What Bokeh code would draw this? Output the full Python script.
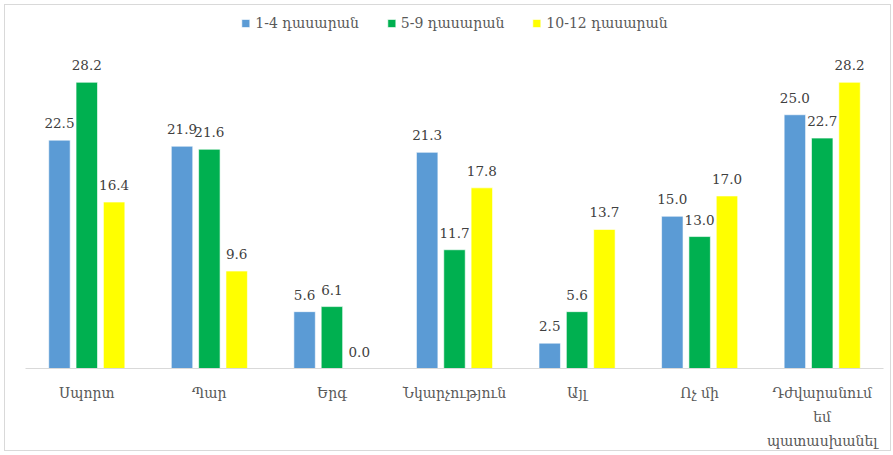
from bokeh.plotting import figure
from bokeh.models import ColumnDataSource, FactorRange, Range1d, Legend, LegendItem
from bokeh.transform import dodge
from bokeh.core.properties import value
from bokeh.embed import file_html
from bokeh.resources import INLINE

categories = ["Սպորտ", "Պար", "Երգ", "Նկարչություն", "Այլ", "Ոչ մի",
              "Դժվարանում\nեմ\nպատասխանել"]
series_names = ["1-4 դասարան", "5-9 դասարան", "10-12 դասարան"]
grade_1_4 = [22.5, 21.9, 5.6, 21.3, 2.5, 15.0, 25.0]
grade_5_9 = [28.2, 21.6, 6.1, 11.7, 5.6, 13.0, 22.7]
grade_10_12 = [16.4, 9.6, 0.0, 17.8, 13.7, 17.0, 28.2]
colors = ["#5B9BD5", "#00B050", "#FFFF00"]

FONT = "DejaVu Serif"

src = ColumnDataSource(dict(
    cat=categories,
    s1=grade_1_4, s2=grade_5_9, s3=grade_10_12,
    t1=[f"{v:.1f}" for v in grade_1_4],
    t2=[f"{v:.1f}" for v in grade_5_9],
    t3=[f"{v:.1f}" for v in grade_10_12],
))

p = figure(x_range=FactorRange(*categories), y_range=Range1d(0, 34.78),
           width=887, height=447, output_backend="svg", toolbar_location=None,
           min_border_left=20, min_border_right=9, min_border_top=10, min_border_bottom=84)
p.margin = (4, 4, 4, 4)
p.styles = {"border": "1px solid #d9d9d9", "box-sizing": "border-box"}
p.outline_line_color = None
p.xgrid.grid_line_color = None
p.ygrid.grid_line_color = None
p.yaxis.visible = False

offsets = [-0.223, 0.0, 0.223]
keys = ["s1", "s2", "s3"]
tkeys = ["t1", "t2", "t3"]
items = []
for i in range(3):
    r = p.vbar(x=dodge("cat", offsets[i], range=p.x_range), top=keys[i], width=0.175,
               source=src, fill_color=colors[i], line_color="white", line_width=0.6)
    items.append(LegendItem(label=series_names[i], renderers=[r]))
    p.text(x=dodge("cat", offsets[i], range=p.x_range), y=keys[i], text=tkeys[i], source=src,
           text_align="center", text_baseline="alphabetic", y_offset=-17,
           text_font=value(FONT), text_font_size="13.5px", text_color="#404040")

legend = Legend(items=items, orientation="horizontal", location="top_center",
                label_text_font=FONT, label_text_font_size="14px", label_text_color="#595959",
                glyph_width=10, glyph_height=10, spacing=27, padding=4, margin=0,
                border_line_color=None, background_fill_alpha=0, label_standoff=5)
p.add_layout(legend)

ax = p.xaxis[0]
ax.axis_line_color = "#d9d9d9"
ax.axis_line_width = 1
ax.major_tick_line_color = None
ax.minor_tick_line_color = None
ax.major_label_text_font = FONT
ax.major_label_text_font_size = "14px"
ax.major_label_text_color = "#595959"
ax.major_label_text_line_height = 1.5
ax.major_label_standoff = 10

open("out.html", "w").write(file_html(p, INLINE))
